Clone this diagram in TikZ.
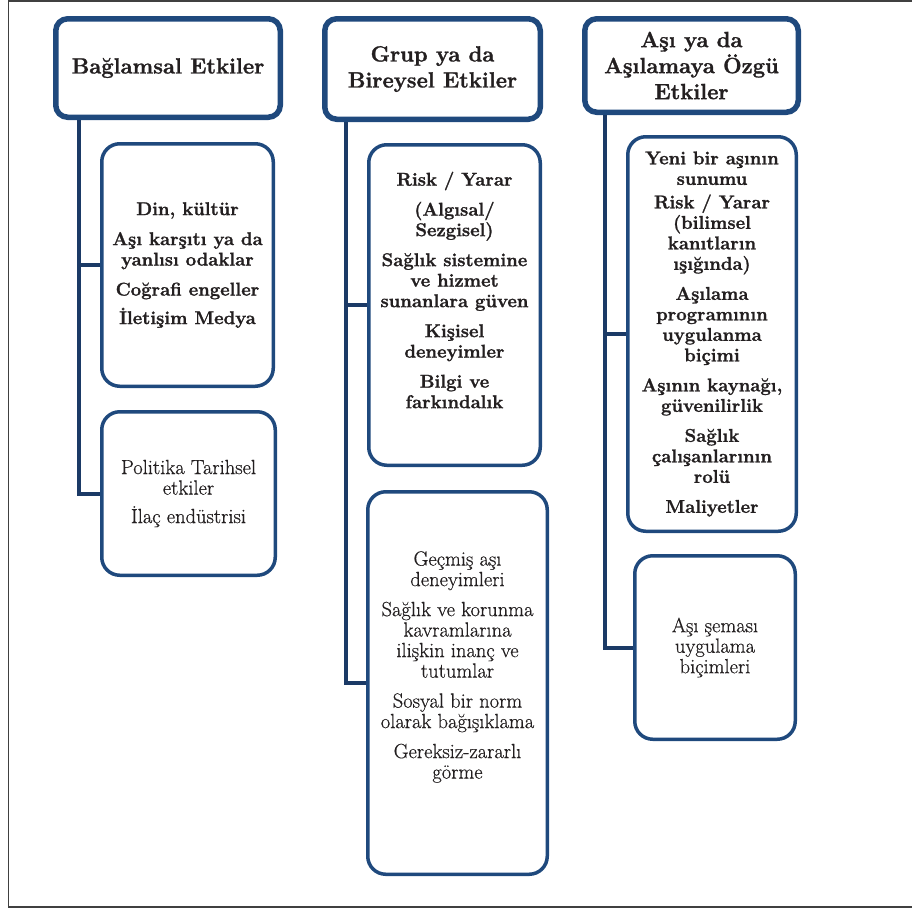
\documentclass[tikz,border=0pt]{standalone}
\usepackage{fontspec}
\setmainfont{Latin Modern Roman}[UprightFeatures={FakeBold=0.5}, BoldFeatures={FakeBold=1.3}]
\usetikzlibrary{shadows}
\definecolor{boxblue}{HTML}{1F497D}
\definecolor{linenavy}{HTML}{1B3A66}
\definecolor{txt}{HTML}{231F20}
\begin{document}
\begin{tikzpicture}[x=1pt,y=-1pt,
  outerframe/.style={draw=black!75, line width=1.8pt},
  hdr/.style={draw=boxblue, line width=5.5pt, rounded corners=12pt, fill=white,
    drop shadow={shadow xshift=1.5pt, shadow yshift=-2pt, opacity=0.2, fill=black}, inner sep=0pt},
  sbox/.style={draw=boxblue, line width=3.5pt, rounded corners=18pt, fill=white, inner sep=0pt},
  conn/.style={draw=linenavy, line width=4pt},
  htext/.style={font=\fontsize{22}{26}\selectfont\bfseries, text=txt, align=center, inner sep=0pt},
  btext/.style={font=\fontsize{18.5}{20.5}\selectfont\bfseries, text=txt, align=center, inner sep=0pt},
  rtext/.style={font=\fontsize{20.5}{20.5}\selectfont, text=txt, align=center, inner sep=0pt},
]
\useasboundingbox (0,0) rectangle (912,911);
\draw[outerframe] (912,1) -- (8.5,1) -- (8.5,907) -- (912,907);

% header boxes
\node[hdr, minimum width=224.5pt, minimum height=98.5pt] (h1) at (168,68) {};
\node[hdr, minimum width=215.5pt, minimum height=100.5pt] (h2) at (432.5,69) {};
\node[hdr, minimum width=213.5pt, minimum height=93.5pt] (h3) at (691.5,65.5) {};

% item boxes
\node[sbox, minimum width=171.5pt, minimum height=242.5pt] (b1) at (187.5,265) {};
\node[sbox, minimum width=173.5pt, minimum height=163.5pt] (b2) at (188.5,493.5) {};
\node[sbox, minimum width=171.5pt, minimum height=320.5pt] (b3) at (454.5,305) {};
\node[sbox, minimum width=179.5pt, minimum height=382.5pt] (b4) at (457.5,683) {};
\node[sbox, minimum width=168.5pt, minimum height=394.5pt] (b5) at (712,334) {};
\node[sbox, minimum width=160.5pt, minimum height=183.5pt] (b6) at (715,647.5) {};

% connector columns
\coordinate (c1) at (79,0);
\coordinate (c2) at (346,0);
\coordinate (c3) at (605,0);
\draw[conn] (c1 |- h1.south) |- (b1.west);
\draw[conn] (c1 |- h1.south) |- (b2.west);
\draw[conn] (c2 |- h2.south) |- (b3.west);
\draw[conn] (c2 |- h2.south) |- (b4.west);
\draw[conn] (c3 |- h3.south) |- (b5.west);
\draw[conn] (c3 |- h3.south) |- (b6.west);

% header texts
\node[htext] (ht1) at (h1.center) {Bağlamsal Etkiler};
\node[htext] (ht2) at (h2.center) {Grup ya da\\Bireysel Etkiler};
\node[htext] (ht3) at (h3.center) {Aşı ya da\\Aşılamaya Özgü\\Etkiler};

% box texts
\node[btext] (t1) at (b1.center) {Din, kültür\\[9.5pt]Aşı karşıtı ya da\\yanlısı odaklar\\[9.5pt]Coğrafi engeller\\[8pt]İletişim Medya};
\node[rtext] (t2) at (b2.center) {Politika Tarihsel\\etkiler\\[8pt]İlaç endüstrisi};
\node[btext] (t3) at ([yshift=15pt]b3.center) {Risk / Yarar\\[9.5pt](Algısal/\\Sezgisel)\\[9.5pt]Sağlık sistemine\\ve hizmet\\sunanlara güven\\[9.5pt]Kişisel\\deneyimler\\[9.5pt]Bilgi ve\\farkındalık};
\node[rtext] (t4) at ([yshift=16pt]b4.center) {Geçmiş aşı\\deneyimleri\\[9.5pt]Sağlık ve korunma\\kavramlarına\\ilişkin inanç ve\\tutumlar\\[9.5pt]Sosyal bir norm\\olarak bağışıklama\\[9.5pt]Gereksiz-zararlı\\görme};
\node[btext] (t5) at (b5.center) {Yeni bir aşının\\sunumu\\[3pt]Risk / Yarar\\(bilimsel\\kanıtların\\ışığında)\\[9.5pt]Aşılama\\programının\\uygulanma\\biçimi\\[9.5pt]Aşının kaynağı,\\güvenilirlik\\[9.5pt]Sağlık\\çalışanlarının\\rolü\\[9.5pt]Maliyetler};
\node[rtext] (t6) at (b6.center) {Aşı şeması\\uygulama\\biçimleri};
\end{tikzpicture}
\end{document}
